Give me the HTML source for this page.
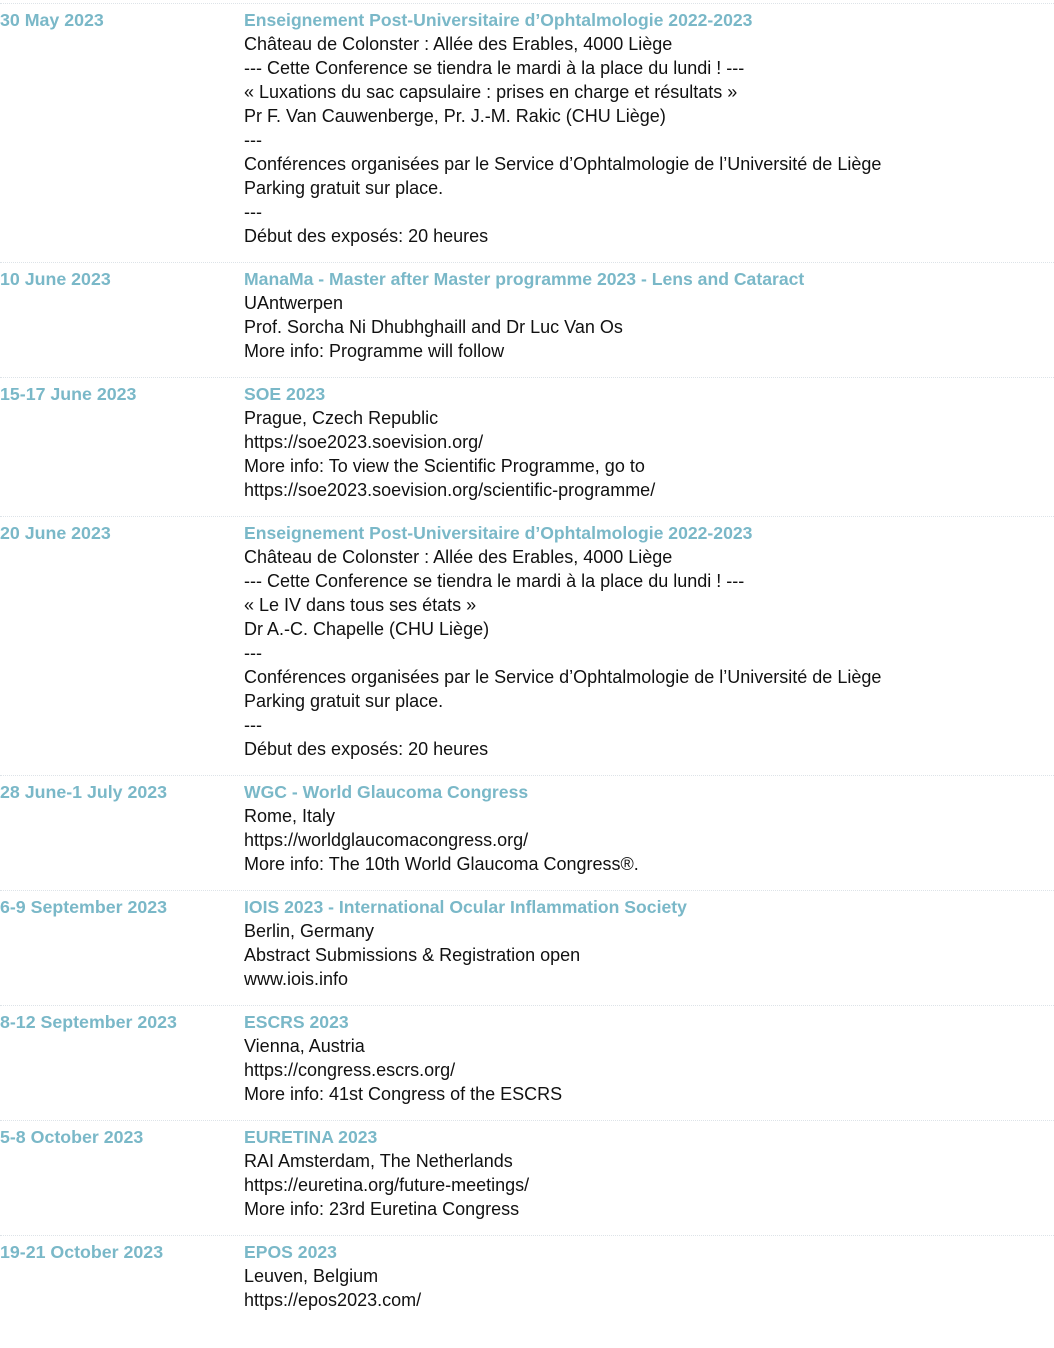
<!DOCTYPE html>
<html><head><meta charset="utf-8"><style>
html,body{margin:0;padding:0;background:#fff;width:1054px;height:1348px;overflow:hidden}
body{position:relative;font-family:"Liberation Sans",sans-serif;font-size:18px;color:#111}
.r{position:absolute;left:0;width:1054px;border-top:1px dotted #dde3e8}
.d{position:absolute;left:0;top:4px;color:#7ab8c8;font-weight:bold;line-height:24px;font-size:17.8px}
.c{position:absolute;left:244px;top:4px;line-height:24px;white-space:nowrap}
.t{color:#7ab8c8;font-weight:bold;font-size:17.6px;line-height:24px}
</style></head><body>
<div class="r" style="top:3px"><div class="d">30 May 2023</div><div class="c"><div class="t">Enseignement Post-Universitaire d’Ophtalmologie 2022-2023</div>Château de Colonster : Allée des Erables, 4000 Liège<br>--- Cette Conference se tiendra le mardi à la place du lundi ! ---<br>« Luxations du sac capsulaire : prises en charge et résultats »<br>Pr F. Van Cauwenberge, Pr. J.-M. Rakic (CHU Liège)<br>---<br>Conférences organisées par le Service d’Ophtalmologie de l’Université de Liège<br>Parking gratuit sur place.<br>---<br>Début des exposés: 20 heures</div></div>
<div class="r" style="top:262px"><div class="d">10 June 2023</div><div class="c"><div class="t">ManaMa - Master after Master programme 2023 - Lens and Cataract</div>UAntwerpen<br>Prof. Sorcha Ni Dhubhghaill and Dr Luc Van Os<br>More info: Programme will follow</div></div>
<div class="r" style="top:377px"><div class="d">15-17 June 2023</div><div class="c"><div class="t">SOE 2023</div>Prague, Czech Republic<br>https://soe2023.soevision.org/<br>More info: To view the Scientific Programme, go to<br>https://soe2023.soevision.org/scientific-programme/</div></div>
<div class="r" style="top:516px"><div class="d">20 June 2023</div><div class="c"><div class="t">Enseignement Post-Universitaire d’Ophtalmologie 2022-2023</div>Château de Colonster : Allée des Erables, 4000 Liège<br>--- Cette Conference se tiendra le mardi à la place du lundi ! ---<br>« Le IV dans tous ses états »<br>Dr A.-C. Chapelle (CHU Liège)<br>---<br>Conférences organisées par le Service d’Ophtalmologie de l’Université de Liège<br>Parking gratuit sur place.<br>---<br>Début des exposés: 20 heures</div></div>
<div class="r" style="top:775px"><div class="d">28 June-1 July 2023</div><div class="c"><div class="t">WGC - World Glaucoma Congress</div>Rome, Italy<br>https://worldglaucomacongress.org/<br>More info: The 10th World Glaucoma Congress®.</div></div>
<div class="r" style="top:890px"><div class="d">6-9 September 2023</div><div class="c"><div class="t">IOIS 2023 - International Ocular Inflammation Society</div>Berlin, Germany<br>Abstract Submissions &amp; Registration open<br>www.iois.info</div></div>
<div class="r" style="top:1005px"><div class="d">8-12 September 2023</div><div class="c"><div class="t">ESCRS 2023</div>Vienna, Austria<br>https://congress.escrs.org/<br>More info: 41st Congress of the ESCRS</div></div>
<div class="r" style="top:1120px"><div class="d">5-8 October 2023</div><div class="c"><div class="t">EURETINA 2023</div>RAI Amsterdam, The Netherlands<br>https://euretina.org/future-meetings/<br>More info: 23rd Euretina Congress</div></div>
<div class="r" style="top:1235px"><div class="d">19-21 October 2023</div><div class="c"><div class="t">EPOS 2023</div>Leuven, Belgium<br>https://epos2023.com/</div></div>
</body></html>
